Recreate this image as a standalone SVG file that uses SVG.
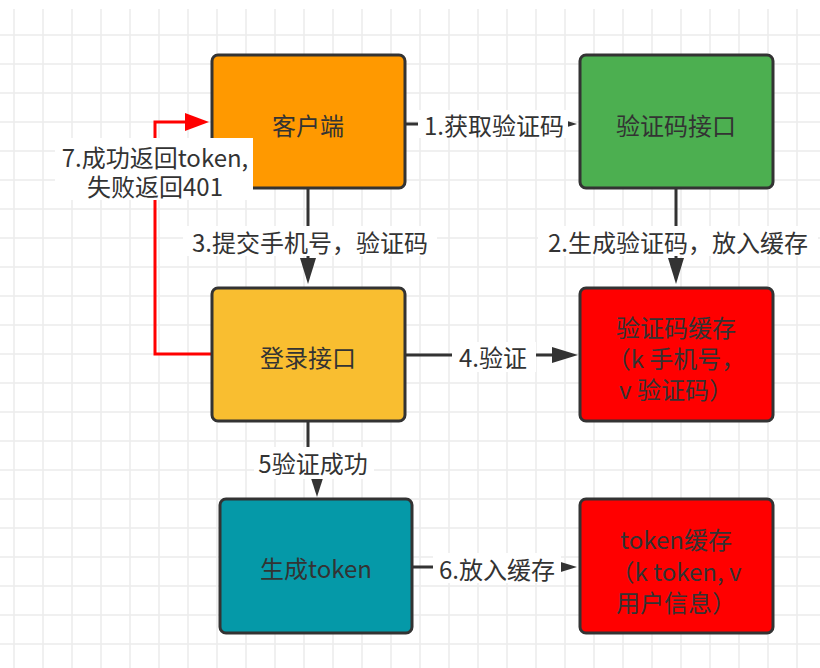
<svg xmlns="http://www.w3.org/2000/svg" width="820" height="668" viewBox="0 0 820 668">
<style>
  .grid{stroke:#ececec;stroke-width:1.5;fill:none}
  .box{stroke:#333333;stroke-width:3}
  .t{font-family:"Noto Sans CJK SC","Noto Sans",sans-serif;font-size:24px;fill:#333333;text-anchor:middle;dominant-baseline:central}
  .lbl{font-family:"Noto Sans CJK SC","Noto Sans",sans-serif;font-size:24px;fill:#333333;text-anchor:middle;dominant-baseline:central}
  .edge{stroke:#333333;stroke-width:3;fill:none}
  .red{stroke:#ff0000;stroke-width:3;fill:none}
  .head{fill:#333333}
  .bg{fill:#ffffff}
</style>
<rect width="820" height="668" fill="#ffffff"/>
<path class="grid" d="M14 9V668M43 9V668M72 9V668M101 9V668M130 9V668M159 9V668M188 9V668M217 9V668M246 9V668M275 9V668M304 9V668M333 9V668M362 9V668M391 9V668M420 9V668M449 9V668M478 9V668M507 9V668M536 9V668M565 9V668M594 9V668M623 9V668M652 9V668M681 9V668M710 9V668M739 9V668M768 9V668M797 9V668
M0 35H820M0 64H820M0 93H820M0 122H820M0 151H820M0 180H820M0 209H820M0 238H820M0 267H820M0 296H820M0 325H820M0 354H820M0 383H820M0 412H820M0 441H820M0 470H820M0 499H820M0 528H820M0 557H820M0 586H820M0 615H820M0 644H820"/>

<g id="connectors">
  <!-- 1 -->
  <path class="edge" d="M406 124H566"/>
  <polygon class="head" points="577,124 551,116 551,132"/>
  <!-- 2 -->
  <path class="edge" d="M676 189V262"/>
  <polygon class="head" points="676,284 668,258 684,258"/>
  <!-- 3 -->
  <path class="edge" d="M308 189V262"/>
  <polygon class="head" points="308,284 300,258 316,258"/>
  <!-- 4 -->
  <path class="edge" d="M406 355H556"/>
  <polygon class="head" points="578,355 552,347 552,363"/>
  <!-- 5 -->
  <path class="edge" d="M308 422V462H317V476"/>
  <polygon class="head" points="317,497 309,472 325,472"/>
  <!-- 6 -->
  <path class="edge" d="M413 567H556"/>
  <polygon class="head" points="577,567 551,559 551,575"/>
  <!-- 7 -->
  <path class="red" d="M211 354H155V122H188"/>
  <polygon fill="#ff0000" points="209,122 185,113 185,131"/>

  <rect class="bg" x="418" y="110" width="150" height="28"/>
  <text class="lbl" x="494" y="124">1.获取验证码</text>
  <rect class="bg" x="538" y="226" width="280" height="30"/>
  <text class="lbl" x="678" y="241">2.生成验证码，放入缓存</text>
  <rect class="bg" x="183" y="226" width="254" height="30"/>
  <text class="lbl" x="310" y="241">3.提交手机号，验证码</text>
  <rect class="bg" x="452" y="342" width="84" height="30"/>
  <text class="lbl" x="493" y="356">4.验证</text>
  <rect class="bg" x="254" y="447" width="120" height="32"/>
  <text class="lbl" x="313" y="462">5验证成功</text>
  <rect class="bg" x="433" y="553" width="128" height="30"/>
  <text class="lbl" x="497" y="568">6.放入缓存</text>
</g>

<g id="client">
  <rect class="box" x="212" y="55" width="193" height="133" rx="6" fill="#ff9900"/>
  <text class="t" x="308" y="124">客户端</text>
</g>
<g id="captcha-api">
  <rect class="box" x="580" y="55" width="193" height="133" rx="6" fill="#4caf50"/>
  <text class="t" x="676" y="124">验证码接口</text>
</g>
<g id="login-api">
  <rect class="box" x="212" y="288" width="193" height="133" rx="6" fill="#f9be30"/>
  <text class="t" x="308" y="356">登录接口</text>
</g>
<g id="captcha-cache">
  <rect class="box" x="580" y="288" width="193" height="133" rx="6" fill="#ff0000"/>
  <text class="t" x="676"><tspan x="676" y="326">验证码缓存</tspan><tspan x="676" y="357">（k 手机号，</tspan><tspan x="676" y="388">v 验证码）</tspan></text>
</g>
<g id="gen-token">
  <rect class="box" x="220" y="499" width="192" height="134" rx="6" fill="#0599a8"/>
  <text class="t" x="316" y="567">生成token</text>
</g>
<g id="token-cache">
  <rect class="box" x="580" y="499" width="193" height="134" rx="6" fill="#ff0000"/>
  <text class="t" x="676"><tspan x="676" y="538">token缓存</tspan><tspan x="676" y="570">（k token, v</tspan><tspan x="676" y="601">用户信息）</tspan></text>
</g>
<g id="label-7">
  <rect class="bg" x="55" y="138" width="198" height="62"/>
  <text class="lbl" x="155"><tspan x="155" y="156">7.成功返回token,</tspan><tspan x="155" y="185">失败返回401</tspan></text>
</g>
</svg>
